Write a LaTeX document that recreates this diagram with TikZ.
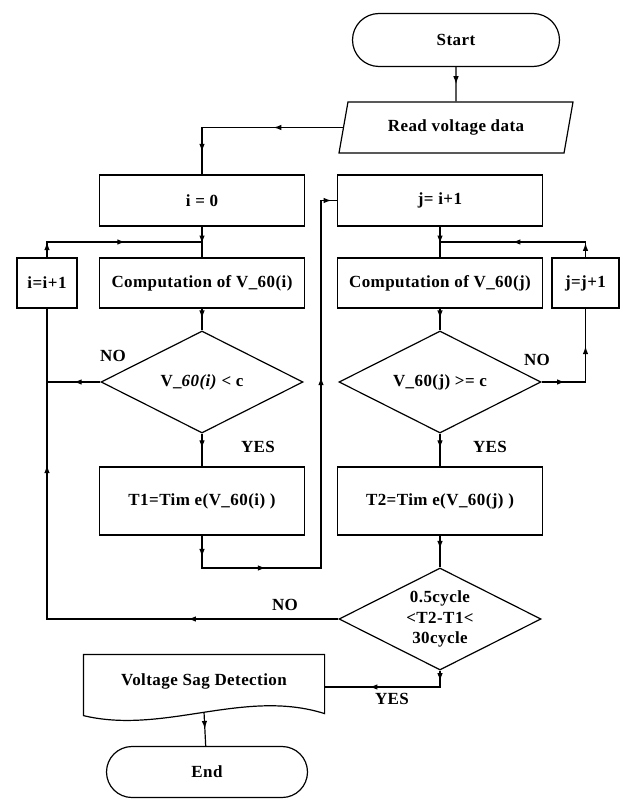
\documentclass[tikz,border=0pt]{standalone}
\usepackage{fontspec}
\setmainfont{Liberation Serif}[LetterSpace=2.5]
\usepackage{tikz}
\usetikzlibrary{%
  positioning
 ,arrows.meta
 ,calc
 ,shapes
 ,decorations.markings
}
\tikzstyle{flow}=[x=1pt,y=-1pt,line width=1.2pt,font=\bfseries\fontsize{17}{20.5}\selectfont]
\tikzstyle{blk}=[rectangle,draw,inner sep=0pt,minimum width=205pt,minimum height=51pt]
\tikzstyle{dec}=[diamond,draw,aspect=2,inner sep=0pt,minimum width=202pt,minimum height=102pt,align=center]
\tikzstyle{term}=[rounded rectangle,draw,inner sep=0pt,minimum height=53pt]
\tikzstyle{io}=[trapezium,trapezium left angle=60,trapezium right angle=120,trapezium stretches body=true,draw,inner sep=0pt,minimum width=234pt,minimum height=51pt]
\tikzstyle{lbl}=[inner sep=0pt]
\tikzset{arrat/.style={postaction={decorate,decoration={markings,mark=at position #1 with {\arrow{Latex[length=8pt,width=5.5pt]}}}}}}

\begin{document}
\begin{tikzpicture}[flow]
  \useasboundingbox (0,0) rectangle (622,800);
  % top
  \node[term,minimum width=207pt] (st) at (456,40) {Start};
  \node[io] (rd) at (456,127.5) {Read voltage data};
  % left column
  \node[blk] (i0) at (202,200.5) {i = 0};
  \node[blk,minimum height=50pt] (ci) at (202,283) {Computation of V\_60(i)};
  \node[blk,minimum width=60pt,minimum height=50pt] (iinc) at (47,283) {i=i+1};
  \node[dec] (d1) at (202,382) {V\_\textit{60(i)} < c};
  \node[blk,minimum height=68pt] (t1) at (202,501) {T1=Tim e(V\_60(i) )};
  % right column
  \node[blk] (j1) at (440,200.5) {j= i+1};
  \node[blk,minimum height=50pt] (cj) at (440,283) {Computation of V\_60(j)};
  \node[blk,minimum width=67pt,minimum height=50pt] (jinc) at (585.5,283) {j=j+1};
  \node[dec] (d2) at (440,382) {V\_60(j) >= c};
  \node[blk,minimum height=68pt] (t2) at (440,501) {T2=Tim e(V\_60(j) )};
  \node[dec] (d3) at (440,619) {0.5cycle\\<T2-T1<\\30cycle};
  % bottom
  \node[rectangle,inner sep=0pt,minimum width=240pt,minimum height=52pt] (doc) at (204,681) {Voltage Sag Detection};
  \draw ([yshift=-8pt]doc.south west) -- (doc.north west) -- (doc.north east)
    -- ([yshift=-6pt]doc.south east) .. controls (244,688) and (164,735) .. cycle;
  \node[term,minimum width=201pt,minimum height=51pt] (en) at (207,772) {End};
  % labels
  \node[lbl] (no1) at (113,356) {NO};
  \node[lbl] (no2) at (537,360) {NO};
  \node[lbl] (yes1) at (258,447) {YES};
  \node[lbl] (yes2) at (490,447) {YES};
  \node[lbl] (no3) at (285,605) {NO};
  \node[lbl] (yes3) at (392,699) {YES};
  % connectors
  \coordinate (ji) at ($(i0.south)!0.5!(ci.north)$);
  \coordinate (jj) at ($(j1.south)!0.5!(cj.north)$);
  \coordinate (lp) at (321,568);
  \coordinate (docb) at (204,712);
  \draw[arrat=0.5] (st) -- (rd);
  \draw[arrat=0.37,arrat=0.88] (rd.left side) -| (i0.north);
  \draw[arrat=0.55] (i0) -- (ci);
  \draw[arrat=0.09,arrat=0.55] (iinc.north) |- (ji);
  \draw[arrat=0.45] (ci) -- (d1);
  \draw[arrat=0.5] (d1.west) -- (d1.west -| iinc.south);
  \draw[arrat=0.45] (d1) -- (t1);
  \draw[arrat=0.04,arrat=0.18,arrat=0.64,arrat=0.99] (t1.south) |- (lp) |- (j1.west);
  \draw[arrat=0.55] (j1) -- (cj);
  \draw[arrat=0.09,arrat=0.55] (jinc.north) |- (jj);
  \draw[arrat=0.45] (cj) -- (d2);
  \draw[arrat=0.2,arrat=0.68] (d2.east) -| (jinc.south);
  \draw[arrat=0.45] (d2) -- (t2);
  \draw[arrat=0.42] (t2) -- (d3);
  \draw[arrat=0.25,arrat=0.74] (d3.west) -| (iinc.south);
  \draw[arrat=0.08,arrat=0.66] (d3.south) |- ([yshift=-6pt]doc.east);
  \draw[arrat=0.5] (docb) -- (en);
\end{tikzpicture}
\end{document}
